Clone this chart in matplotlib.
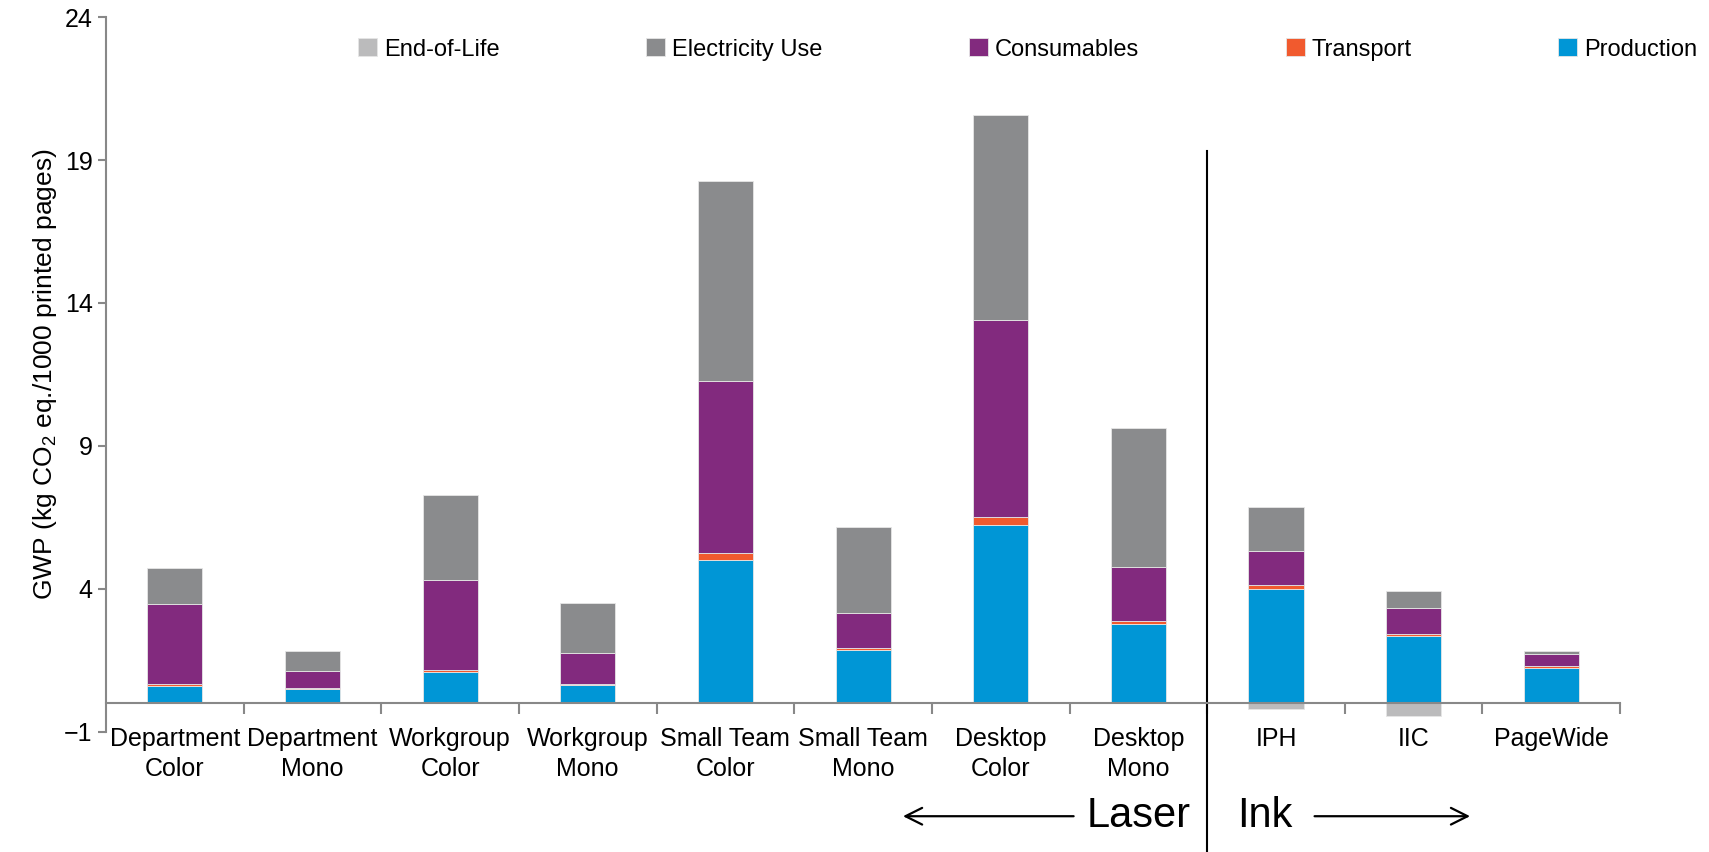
import matplotlib.pyplot as plt
import numpy as np

plt.rcParams['font.family'] = ['Liberation Sans', 'DejaVu Sans']
plt.rcParams['mathtext.default'] = 'regular'

categories = ["Department\nColor", "Department\nMono", "Workgroup\nColor", "Workgroup\nMono",
              "Small Team\nColor", "Small Team\nMono", "Desktop\nColor", "Desktop\nMono",
              "IPH", "IIC", "PageWide"]

production = [0.62, 0.50, 1.08, 0.64, 5.02, 1.86, 6.24, 2.77, 3.98, 2.35, 1.25]
transport = [0.05, 0.03, 0.08, 0.05, 0.23, 0.08, 0.27, 0.12, 0.14, 0.09, 0.07]
consumables = [2.79, 0.61, 3.14, 1.06, 6.02, 1.22, 6.90, 1.87, 1.19, 0.90, 0.40]
electricity = [1.26, 0.68, 3.00, 1.75, 6.98, 3.01, 7.16, 4.87, 1.54, 0.58, 0.11]
end_of_life = [0.0, 0.0, 0.0, 0.0, 0.0, 0.0, 0.0, 0.0, -0.20, -0.43, 0.0]

yticks = [-1, 4, 9, 14, 19, 24]

c_prod = "#0096D6"
c_trans = "#F15A2E"
c_cons = "#822A7E"
c_elec = "#8A8B8D"
c_eol = "#BBBBBC"

fig, ax = plt.subplots(figsize=(17.09, 8.52), dpi=100)
fig.subplots_adjust(left=0.062, right=0.948, top=0.98, bottom=0.141)

x = np.arange(len(categories))
w = 0.4
edge = dict(edgecolor="#e6e6e6", linewidth=0.6)
prod = np.array(production)
trans = np.array(transport)
cons = np.array(consumables)
elec = np.array(electricity)

ax.bar(x, end_of_life, w, color=c_eol, label="End-of-Life", **edge)
ax.bar(x, prod, w, color=c_prod, label="Production", **edge)
ax.bar(x, trans, w, bottom=prod, color=c_trans, label="Transport", **edge)
ax.bar(x, cons, w, bottom=prod + trans, color=c_cons, label="Consumables", **edge)
ax.bar(x, elec, w, bottom=prod + trans + cons, color=c_elec, label="Electricity Use", **edge)

ax.set_xlim(-0.5, 10.5)
ax.set_ylim(-1, 24)
ax.set_yticks(yticks)
ax.tick_params(axis="y", labelsize=18, color="#888888", length=6, width=1.5)
ax.set_ylabel("GWP (kg CO$_2$ eq./1000 printed pages)", fontsize=19)

for s in ("top", "right"):
    ax.spines[s].set_visible(False)
ax.spines["left"].set_color("#888888")
ax.spines["left"].set_linewidth(1.5)
ax.spines["bottom"].set_position(("data", 0))
ax.spines["bottom"].set_color("#888888")
ax.spines["bottom"].set_linewidth(1.5)

ax.set_xticks(x)
ax.set_xticklabels(categories, fontsize=18, linespacing=1.3)
ax.tick_params(axis="x", which="major", length=0, pad=17)
ax.set_xticks(np.arange(0.5, 11, 1), minor=True)
ax.tick_params(axis="x", which="minor", length=8, width=1.5, color="#888888")

# separator between laser and ink
ax.plot([7.5, 7.5], [19.3, -5.3], color="black", linewidth=1.5, clip_on=False)

# Laser / Ink arrows
ax.annotate("", xy=(5.27, -3.95), xytext=(6.55, -3.95), annotation_clip=False,
            arrowprops=dict(arrowstyle="->", lw=1.6, mutation_scale=30, color="black"))
ax.annotate("", xy=(9.43, -3.95), xytext=(8.26, -3.95), annotation_clip=False,
            arrowprops=dict(arrowstyle="->", lw=1.6, mutation_scale=30, color="black"))
ax.text(7.38, -3.95, "Laser", fontsize=30, ha="right", va="center", clip_on=False)
ax.text(7.72, -3.95, "Ink", fontsize=30, ha="left", va="center", clip_on=False)

handles, labels = ax.get_legend_handles_labels()
order = ["End-of-Life", "Electricity Use", "Consumables", "Transport", "Production"]
hmap = dict(zip(labels, handles))
ax.legend([hmap[k] for k in order], order, ncol=5, frameon=False, fontsize=17,
          loc="upper right", bbox_to_anchor=(1.065, 1.0), columnspacing=6.2,
          handlelength=0.8, handleheight=0.8, handletextpad=0.3)

plt.savefig("out.png", dpi=100)
